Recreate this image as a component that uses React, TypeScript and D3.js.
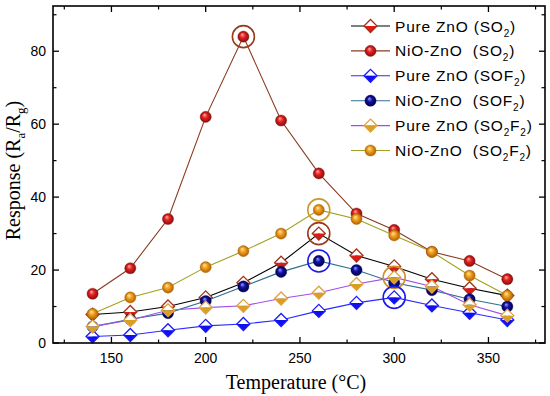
import React from 'react';
import * as d3 from 'd3';

const temps = [140, 160, 180, 200, 220, 240, 260, 280, 300, 320, 340, 360];
const pureSO2 = [7.8, 8.5, 10, 12.5, 16.5, 22, 30, 24, 21, 17.5, 15, 13];
const nioSO2 = [13.5, 20.5, 34, 62, 84, 61, 46.5, 35.5, 31, 25, 22.5, 17.5];
const pureSOF2 = [1.8, 2.2, 3.5, 4.7, 5.2, 6.3, 8.8, 11, 12.5, 10.3, 8.3, 6.3];
const nioSOF2 = [4.5, 6.5, 8.2, 11.5, 15.5, 19.5, 22.5, 20, 16.5, 14.5, 12, 10];
const pureSO2F2 = [4.5, 6.3, 9, 9.7, 10.2, 12.2, 13.8, 16.2, 18, 15.5, 10.5, 7.5];
const nioSO2F2 = [8, 12.5, 15.2, 20.8, 25.2, 30, 36.5, 34, 29.5, 25, 18.5, 13];

const xTicks = [150, 200, 250, 300, 350];
const xMinor = [125, 175, 225, 275, 325, 375];
const yTicks = [0, 20, 40, 60, 80];
const yMinor = [10, 30, 50, 70, 90];

type Series = {
  key: string;
  values: number[];
  marker: 'diamond' | 'sphere';
  line: string;
  stroke: string;
  fill: string;
  grad?: [string, string, string];
  label: [string, string][];
};

const seriesList: Series[] = [
  { key: 'pso2', values: pureSO2, marker: 'diamond', line: '#000000', stroke: '#a0341c', fill: '#e01818',
    label: [['Pure ZnO (SO', ''], ['2', 'sub'], [')', '']] },
  { key: 'nso2', values: nioSO2, marker: 'sphere', line: '#8b3a1e', stroke: '#8b1a10', fill: '#e02020',
    grad: ['#ffb0a0', '#e82020', '#801010'], label: [['NiO-ZnO  (SO', ''], ['2', 'sub'], [')', '']] },
  { key: 'psof2', values: pureSOF2, marker: 'diamond', line: '#2a2aff', stroke: '#1a1aff', fill: '#1010ee',
    label: [['Pure ZnO (SOF', ''], ['2', 'sub'], [')', '']] },
  { key: 'nsof2', values: nioSOF2, marker: 'sphere', line: '#2f7090', stroke: '#00005a', fill: '#0a0aa0',
    grad: ['#a0a0ff', '#1010a8', '#000040'], label: [['NiO-ZnO  (SOF', ''], ['2', 'sub'], [')', '']] },
  { key: 'pso2f2', values: pureSO2F2, marker: 'diamond', line: '#a24ee6', stroke: '#e0a040', fill: '#d8a020',
    label: [['Pure ZnO (SO', ''], ['2', 'sub'], ['F', ''], ['2', 'sub'], [')', '']] },
  { key: 'nso2f2', values: nioSO2F2, marker: 'sphere', line: '#a0a020', stroke: '#b07010', fill: '#f0a020',
    grad: ['#ffe8a0', '#f0a020', '#b06000'], label: [['NiO-ZnO  (SO', ''], ['2', 'sub'], ['F', ''], ['2', 'sub'], [')', '']] },
];

// highlight circles: [series index, temperature index, colour]
const highlights: [number, number, string][] = [
  [1, 4, '#9a3a1a'],
  [5, 6, '#c89a30'],
  [0, 6, '#9a3a1a'],
  [3, 6, '#1a1aee'],
  [4, 8, '#d0902a'],
  [2, 8, '#1a1aee'],
];

const L = 53, R = 545, T = 6, B = 343;

function Diamond({ x, y, s, stroke, fill }: { x: number; y: number; s: number; stroke: string; fill: string }) {
  return (
    <g>
      <path d={`M${x - s},${y} L${x},${y - s} L${x + s},${y} Z`} fill="#ffffff" />
      <path d={`M${x - s},${y} L${x},${y + s} L${x + s},${y} Z`} fill={fill} />
      <path d={`M${x - s},${y} L${x},${y - s} L${x + s},${y} L${x},${y + s} Z`} fill="none" stroke={stroke} strokeWidth={1.3} />
    </g>
  );
}

function Sphere({ x, y, r, gid, stroke }: { x: number; y: number; r: number; gid: string; stroke: string }) {
  return <circle cx={x} cy={y} r={r} fill={`url(#${gid})`} stroke={stroke} strokeWidth={0.4} />;
}

function Marker({ s, x, y }: { s: Series; x: number; y: number }) {
  if (s.marker === 'diamond') return <Diamond x={x} y={y} s={6.5} stroke={s.stroke} fill={s.fill} />;
  return <Sphere x={x} y={y} r={5.6} gid={`g-${s.key}`} stroke={s.stroke} />;
}

export default function App() {
  const x = d3.scaleLinear().domain([119, 380]).range([L, R]);
  const y = d3.scaleLinear().domain([0, 92.4]).range([B, T]);
  const line = d3.line<number>().x((_, i) => x(temps[i])).y((d) => y(d));

  const legendX0 = 351, legendX1 = 390, legendTextX = 395;
  const legendY = (i: number) => 26 + i * 24.9;
  const sans = "'Liberation Sans', Arial, sans-serif";
  const serif = "'Liberation Serif', 'Times New Roman', serif";

  return (
    <svg width={550} height={396} style={{ position: 'absolute', left: 0, top: 0, background: '#fff' }}>
      <defs>
        {seriesList.filter((s) => s.grad).map((s) => (
          <radialGradient key={s.key} id={`g-${s.key}`} cx="0.5" cy="0.5" r="0.5" fx="0.38" fy="0.3">
            <stop offset="0%" stopColor={s.grad![0]} />
            <stop offset="45%" stopColor={s.grad![1]} />
            <stop offset="100%" stopColor={s.grad![2]} />
          </radialGradient>
        ))}
      </defs>
      <rect x={0} y={0} width={550} height={396} fill="#ffffff" />

      {seriesList.map((s) => (
        <path key={s.key} d={line(s.values) || ''} fill="none" stroke={s.line} strokeWidth={1.1} />
      ))}
      {seriesList.map((s) => (
        <g key={s.key}>
          {s.values.map((v, i) => (
            <Marker key={i} s={s} x={x(temps[i])} y={y(v)} />
          ))}
        </g>
      ))}
      {highlights.map(([si, ti, c], k) => (
        <circle key={k} cx={x(temps[ti])} cy={y(seriesList[si].values[ti])} r={11} fill="none" stroke={c} strokeWidth={1.6} />
      ))}

      <rect x={L} y={T} width={R - L} height={B - T} fill="none" stroke="#000" strokeWidth={1.6} />
      {xTicks.map((t) => (
        <g key={t}>
          <line x1={x(t)} x2={x(t)} y1={B} y2={B - 6} stroke="#000" strokeWidth={1.3} />
          <line x1={x(t)} x2={x(t)} y1={T} y2={T + 6} stroke="#000" strokeWidth={1.3} />
          <text x={x(t)} y={B + 20} textAnchor="middle" fontFamily={sans} fontSize={14}>{t}</text>
        </g>
      ))}
      {xMinor.map((t) => (
        <g key={t}>
          <line x1={x(t)} x2={x(t)} y1={B} y2={B - 3.5} stroke="#000" strokeWidth={1.2} />
          <line x1={x(t)} x2={x(t)} y1={T} y2={T + 3.5} stroke="#000" strokeWidth={1.2} />
        </g>
      ))}
      {yTicks.map((t) => (
        <g key={t}>
          <line x1={L} x2={L + 6} y1={y(t)} y2={y(t)} stroke="#000" strokeWidth={1.3} />
          <line x1={R} x2={R - 6} y1={y(t)} y2={y(t)} stroke="#000" strokeWidth={1.3} />
          <text x={L - 7} y={y(t) + 5} textAnchor="end" fontFamily={sans} fontSize={14}>{t}</text>
        </g>
      ))}
      {yMinor.map((t) => (
        <g key={t}>
          <line x1={L} x2={L + 3.5} y1={y(t)} y2={y(t)} stroke="#000" strokeWidth={1.2} />
          <line x1={R} x2={R - 3.5} y1={y(t)} y2={y(t)} stroke="#000" strokeWidth={1.2} />
        </g>
      ))}

      <text x={296} y={389} textAnchor="middle" fontFamily={serif} fontSize={20}>Temperature (°C)</text>
      <text transform={`translate(20,${(T + B) / 2 - 4}) rotate(-90)`} textAnchor="middle" fontFamily={serif} fontSize={20}>
        Response (R<tspan dy={5} fontSize={13}>a</tspan><tspan dy={-5}>/R</tspan><tspan dy={5} fontSize={13}>g</tspan><tspan dy={-5}>)</tspan>
      </text>

      {seriesList.map((s, i) => {
        const ly = legendY(i);
        const mx = (legendX0 + legendX1) / 2;
        let dyAcc = 0;
        return (
          <g key={s.key}>
            <line x1={legendX0} x2={legendX1} y1={ly} y2={ly} stroke={s.line} strokeWidth={1.1} />
            <Marker s={s} x={mx} y={ly} />
            <text x={legendTextX} y={ly + 5.5} fontFamily={sans} fontSize={15.5} letterSpacing={0.8} style={{ whiteSpace: 'pre' }}>
              {s.label.map(([t, kind], k) => {
                let dy = 0;
                if (kind === 'sub' && dyAcc === 0) { dy = 5; dyAcc = 5; }
                else if (kind !== 'sub' && dyAcc !== 0) { dy = -dyAcc; dyAcc = 0; }
                return (
                  <tspan key={k} dy={dy} fontSize={kind === 'sub' ? 10 : 15.5}>{t}</tspan>
                );
              })}
            </text>
          </g>
        );
      })}
    </svg>
  );
}
